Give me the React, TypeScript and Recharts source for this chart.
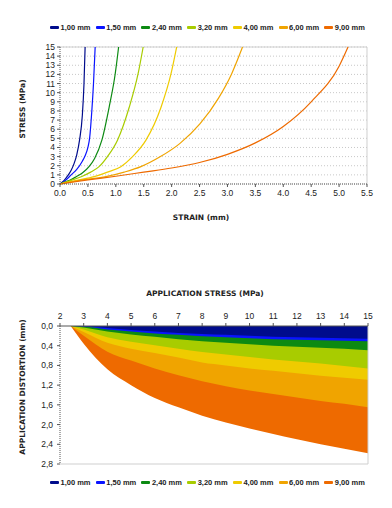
import {
  LineChart,
  Line,
  AreaChart,
  Area,
  XAxis,
  YAxis,
  CartesianGrid,
  Legend,
  ReferenceLine
} from "recharts";

const seriesNames = ["1,00 mm", "1,50 mm", "2,40 mm", "3,20 mm", "4,00 mm", "6,00 mm", "9,00 mm"];
const seriesColors = ["#000c8c", "#0a14ff", "#0c8a12", "#a8cc00", "#efcb00", "#f0a400", "#ee6a00"];

// stress-strain curves: [strain mm, stress MPa]
const curve100: [number, number][] = [[0, 0], [0.05, 0.25], [0.1, 0.6], [0.15, 1.0], [0.2, 1.5], [0.25, 2.2], [0.3, 3.2], [0.35, 4.8], [0.4, 7.5], [0.43, 11], [0.45, 15]];
const curve150: [number, number][] = [[0, 0], [0.1, 0.4], [0.2, 1.0], [0.3, 1.6], [0.4, 2.5], [0.45, 3.1], [0.5, 4.0], [0.53, 5.0], [0.57, 8.0], [0.6, 11], [0.63, 15]];
const curve240: [number, number][] = [[0, 0], [0.1, 0.25], [0.2, 0.5], [0.29, 0.8], [0.4, 1.2], [0.52, 1.9], [0.62, 2.8], [0.75, 4.8], [0.88, 8.4], [0.99, 12.1], [1.05, 15]];
const curve320: [number, number][] = [[0, 0], [0.2, 0.4], [0.38, 0.8], [0.55, 1.3], [0.7, 1.9], [0.85, 3.0], [1.03, 4.8], [1.24, 8.4], [1.4, 12.1], [1.49, 15]];
const curve400: [number, number][] = [[0, 0], [0.3, 0.4], [0.61, 0.8], [0.85, 1.3], [1.09, 1.9], [1.3, 3.0], [1.54, 4.8], [1.81, 8.4], [1.99, 12.1], [2.09, 15]];
const curve600: [number, number][] = [[0, 0], [0.4, 0.45], [0.82, 0.8], [1.15, 1.3], [1.45, 1.9], [1.8, 3.0], [2.15, 4.45], [2.51, 6.6], [2.84, 9.4], [3.07, 12.0], [3.27, 15]];
const curve900: [number, number][] = [[0, 0], [0.5, 0.45], [1.0, 0.85], [1.5, 1.3], [2.0, 1.75], [2.5, 2.35], [3.0, 3.25], [3.5, 4.5], [4.0, 6.3], [4.5, 9.0], [5.0, 12.9], [5.16, 15]];

const strainTicks = [0, 0.5, 1, 1.5, 2, 2.5, 3, 3.5, 4, 4.5, 5, 5.5];
const stressTicks = [0, 1, 2, 3, 4, 5, 6, 7, 8, 9, 10, 11, 12, 13, 14, 15];

// application stress (MPa) vs distortion (mm)
const appStress = [2.45, 3, 4, 5, 6, 7, 8, 9, 10, 11, 12, 13, 14, 15];
const dist100 = [0, 0.005, 0.04, 0.08, 0.11, 0.14, 0.16, 0.18, 0.2, 0.22, 0.23, 0.24, 0.25, 0.26];
const dist150 = [0, 0.01, 0.07, 0.11, 0.15, 0.18, 0.21, 0.23, 0.25, 0.27, 0.28, 0.29, 0.3, 0.31];
const dist240 = [0, 0.03, 0.11, 0.17, 0.22, 0.27, 0.31, 0.34, 0.37, 0.4, 0.42, 0.44, 0.46, 0.49];
const dist320 = [0, 0.07, 0.23, 0.32, 0.39, 0.46, 0.53, 0.58, 0.63, 0.68, 0.72, 0.76, 0.81, 0.86];
const dist400 = [0, 0.12, 0.34, 0.46, 0.55, 0.64, 0.74, 0.8, 0.86, 0.91, 0.96, 1.01, 1.05, 1.09];
const dist600 = [0, 0.2, 0.52, 0.7, 0.86, 1.0, 1.12, 1.22, 1.31, 1.38, 1.45, 1.52, 1.58, 1.65];
const dist900 = [0, 0.36, 0.88, 1.2, 1.46, 1.65, 1.82, 1.96, 2.08, 2.19, 2.3, 2.4, 2.49, 2.58];

const appStressTicks = [2, 3, 4, 5, 6, 7, 8, 9, 10, 11, 12, 13, 14, 15];
const distTicks = [0, 0.4, 0.8, 1.2, 1.6, 2.0, 2.4, 2.8];

const curves = [curve100, curve150, curve240, curve320, curve400, curve600, curve900];
const dists = [dist100, dist150, dist240, dist320, dist400, dist600, dist900];

const areaRows = appStress.map((s, i) => {
  const row: Record<string, number> = { stress: s };
  dists.forEach((d, k) => (row["d" + k] = d[i]));
  return row;
});

const font = "'Liberation Sans', Arial, sans-serif";
const tickStyle = { fontSize: 8.5, fill: "#222", fontFamily: font };

function LegendRow() {
  return (
    <div
      style={{
        display: "flex",
        alignItems: "center",
        fontFamily: font,
        fontWeight: "bold",
        fontSize: 7.5,
        color: "#222",
        whiteSpace: "nowrap"
      }}
    >
      {seriesNames.map((n, i) => (
        <div key={n} style={{ display: "flex", alignItems: "center", marginRight: 5.2 }}>
          <span
            style={{ display: "inline-block", width: 9, height: 3, background: seriesColors[i], marginRight: 1.5, borderRadius: 1 }}
          />
          <span>{n}</span>
        </div>
      ))}
    </div>
  );
}

function AxisTitle({ text, x, y, rotate }: { text: string; x: number; y: number; rotate?: boolean }) {
  return (
    <text
      x={x}
      y={y}
      textAnchor="middle"
      dominantBaseline="central"
      transform={rotate ? `rotate(-90 ${x} ${y})` : undefined}
      style={{ fontSize: 7.5, fontWeight: "bold", fill: "#222", fontFamily: "'DejaVu Sans', sans-serif" }}
    >
      {text}
    </text>
  );
}

export default function App() {
  return (
    <div style={{ position: "absolute", left: 0, top: 0, width: 392, height: 508, background: "#fff" }}>
      <div style={{ position: "absolute", left: 0, top: 0 }}>
        <LineChart width={392} height={240} margin={{ top: 47, right: 25, bottom: 26, left: 10 }}>
          <CartesianGrid vertical={false} stroke="#c8c8c8" strokeDasharray="1 2" />
          <XAxis
            dataKey="x"
            type="number"
            domain={[0, 5.5]}
            ticks={strainTicks}
            interval={0}
            tickFormatter={(v: number) => v.toFixed(1)}
            height={30}
            tick={tickStyle}
            tickSize={3}
            tickMargin={3}
            axisLine={{ stroke: "#555", strokeDasharray: "1 1" }}
            tickLine={{ stroke: "#555" }}
            label={{ content: () => <AxisTitle text="STRAIN (mm)" x={201} y={217} /> }}
          />
          <YAxis
            type="number"
            domain={[0, 15]}
            ticks={stressTicks}
            interval={0}
            width={50}
            tick={tickStyle}
            tickSize={3}
            tickMargin={2}
            axisLine={{ stroke: "#555", strokeDasharray: "1 1" }}
            tickLine={{ stroke: "#555" }}
            label={{ content: () => <AxisTitle text="STRESS (MPa)" x={22} y={109} rotate /> }}
          />
          <ReferenceLine y={15} stroke="#cfcfcf" />
          <ReferenceLine x={5.5} stroke="#cfcfcf" />
          {curves.map((c, i) => (
            <Line
              key={seriesNames[i]}
              name={seriesNames[i]}
              data={c.map(([x, y]) => ({ x, y }))}
              dataKey="y"
              type="monotone"
              stroke={seriesColors[i]}
              strokeWidth={1.2}
              dot={false}
              isAnimationActive={false}
            />
          ))}
          <Legend
            verticalAlign="middle"
            align="center"
            content={() => <LegendRow />}
            wrapperStyle={{ top: 23, left: 50, width: 340, height: 10 }}
          />
        </LineChart>
      </div>

      <div style={{ position: "absolute", left: 0, top: 270 }}>
        <AreaChart width={392} height={238} data={areaRows} margin={{ top: 16, right: 24, bottom: 44, left: 10 }}>
          <XAxis
            dataKey="stress"
            type="number"
            orientation="top"
            domain={[2, 15]}
            ticks={appStressTicks}
            interval={0}
            height={40}
            tick={tickStyle}
            tickSize={3}
            tickMargin={4}
            axisLine={{ stroke: "#555" }}
            tickLine={{ stroke: "#555" }}
            label={{ content: () => <AxisTitle text="APPLICATION STRESS (MPa)" x={205} y={23} /> }}
          />
          <YAxis
            type="number"
            reversed
            domain={[0, 2.8]}
            ticks={distTicks}
            interval={0}
            width={50}
            tick={tickStyle}
            tickSize={3}
            tickMargin={4}
            tickFormatter={(v: number) => v.toFixed(1).replace(".", ",")}
            axisLine={{ stroke: "#555", strokeDasharray: "1 1" }}
            tickLine={{ stroke: "#555" }}
            label={{ content: () => <AxisTitle text="APPLICATION DISTORTION (mm)" x={22} y={117} rotate /> }}
          />
          {[6, 5, 4, 3, 2, 1, 0].map((k) => (
            <Area
              key={seriesNames[k]}
              name={seriesNames[k]}
              dataKey={"d" + k}
              type="monotone"
              stroke="none"
              fill={seriesColors[k]}
              fillOpacity={1}
              isAnimationActive={false}
            />
          ))}
          <ReferenceLine y={2.8} stroke="#cfcfcf" />
          <ReferenceLine x={15} stroke="#cfcfcf" />
          <Legend
            verticalAlign="middle"
            align="center"
            content={() => <LegendRow />}
            wrapperStyle={{ top: 208, left: 50, width: 340, height: 10 }}
          />
        </AreaChart>
      </div>
    </div>
  );
}
